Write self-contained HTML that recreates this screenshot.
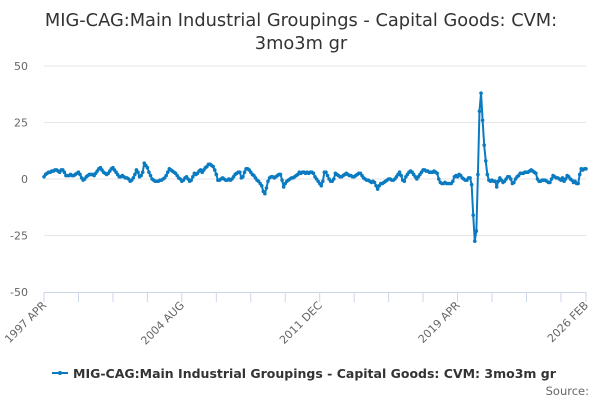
<!DOCTYPE html>
<html><head><meta charset="utf-8"><style>
body{margin:0;background:#fff;font-family:"DejaVu Sans","Liberation Sans",sans-serif}
svg{display:block}
</style></head><body>
<svg id="chart" width="600" height="400" viewBox="0 0 600 400" xmlns="http://www.w3.org/2000/svg" font-family="DejaVu Sans, Liberation Sans, sans-serif">
<text x="301" y="26" text-anchor="middle" font-size="17.8" fill="#333">MIG-CAG:Main Industrial Groupings - Capital Goods: CVM:</text>
<text x="301" y="49" text-anchor="middle" font-size="17.8" fill="#333">3mo3m gr</text>
<g id="grid"></g>
<g id="yaxis"></g>
<g id="xaxis"></g>
<g id="series"></g>
<g>
<line x1="52" y1="373" x2="68" y2="373" stroke="#0b7bc1" stroke-width="2"/>
<circle cx="60" cy="373" r="2" fill="#0b7bc1"/>
<text x="73" y="378" font-size="12.5" font-weight="bold" fill="#333">MIG-CAG:Main Industrial Groupings - Capital Goods: CVM: 3mo3m gr</text>
</g>
<text x="589" y="395" text-anchor="end" font-size="11.5" fill="#666">Source:</text>
</svg>
<script>
const values = [
1,2,2.5,3,3,3.5,3.5,4,4,3.5,3,4,
4,3,1.5,1.5,1.5,2,1.5,1.5,2,2.5,3,2,
0.5,-0.5,0,1,1.5,2,2,2,1.5,2.5,3.5,4.5,
5,4,3,2.5,2,2.5,3.5,4.5,5,4,3,2,
1,1,1.5,1,0.5,0.5,0,-1,-0.5,0.5,2,4,
3,1,1.5,3,7,6,5,3,1.5,0,-0.5,-1,
-1,-1,-0.5,-0.5,0,0.5,1.5,3,4.5,4,3.5,3,
2.5,1.5,0.5,0,-1,-0.5,0.5,1,0,-1,-0.5,1,
2.5,2,2.5,3.5,4,3,4,5,5.5,6.5,6.5,6,
5.5,4,2,-0.5,-0.5,0,0.5,0,-0.5,-0.5,0,-0.5,
0,1,2,2.5,3,3,0.5,1,3,4.5,4.5,4,
3,2,1.5,0.5,-0.5,-1,-2,-3,-5.5,-6.5,-4,-1,
0.5,1,1,0.5,1,1.5,2,2,-0.5,-3.5,-2,-1,
-0.5,0,0.5,0.5,1,1.5,2,3,2.5,3,3,2.5,
3,2.5,3,3,2.5,1,0,-1,-2,-3,-1,3,
3,1.5,0,-1,-1,0,2.5,2,1.5,1,1,1.5,
2,2.5,2,1.5,1.5,1,1,1.5,2,2.5,2.5,1.5,
0.5,0,-0.5,-0.5,-1,-1.5,-1,-1.5,-3,-4.5,-3,-2,
-2,-1.5,-1,-0.5,0,0,-0.5,-0.5,0,1,2,3,
1.5,-0.5,-1,1,2,3,3.5,3,2,1,0,1,
2,3,4,4,3.5,3.5,3,3,3,3.5,3,2.5,
0,-1.5,-2,-2,-1.5,-2,-2,-2,-2,-1,1,1.5,
1,2,1.5,0.5,0,-0.5,-0.5,0.5,0.5,-2.5,-16,-27.5,
-23,2,30,38,26,15,8,2,-0.5,-1,-0.5,-1,
-1,-3.5,-1,0.5,-0.5,-1.5,-1,0,1,1,0,-2,
-1.5,0,1,1.5,2.5,2.5,2.5,3,3,3,3.5,4,
3.5,3,2.5,0,-1,-1,-0.5,-0.5,-0.5,-1,-1.5,-1.5,
0,1.5,1,0.5,0.5,0,-0.5,0.5,-1,0,1.5,1,
0,-0.5,-1.5,-1,-2,-2,2,4.5,4,4.5,4.5
];
const monthNames = ["JAN","FEB","MAR","APR","MAY","JUN","JUL","AUG","SEP","OCT","NOV","DEC"];
const yTicks = [50,25,0,-25,-50];
const xTickLabels = ["1997 APR","2004 AUG","2011 DEC","2019 APR","2026 FEB"];
const categories = [];
for (let i = 0; i < values.length; i++) { const t = 1997*12 + 3 + i; categories.push(Math.floor(t/12) + " " + monthNames[t%12]); }

const NS = "http://www.w3.org/2000/svg";
const X0 = 44, X1 = 586, Y0 = 66, Y1 = 292, YMAX = 50, YMIN = -50;
const xs = i => X0 + i * (X1 - X0) / (values.length - 1);
const ys = v => Y0 + (YMAX - v) * (Y1 - Y0) / (YMAX - YMIN);
function mk(tag, attrs, parent) { const e = document.createElementNS(NS, tag); for (const k in attrs) e.setAttribute(k, attrs[k]); parent.appendChild(e); return e; }

const grid = document.getElementById('grid'), yaxis = document.getElementById('yaxis'), xaxis = document.getElementById('xaxis'), series = document.getElementById('series');
yTicks.forEach(v => {
  if (v !== YMIN) { const g = mk('line', {x1:X0, x2:X1, y1:ys(v), y2:ys(v), stroke:'#e6e6e6', 'stroke-width':1}, grid);
    
     }
  const t = mk('text', {x:28, y:ys(v)+4, 'text-anchor':'end', 'font-size':11, fill:'#666'}, yaxis);
  t.textContent = v;
  
  
});
const ax = mk('line', {x1:X0, x2:X1, y1:Y1+0.5, y2:Y1+0.5, stroke:'#ccd6eb', 'stroke-width':1}, xaxis);


for (let i = 0; i < values.length; i += 22) {
  const tk = mk('line', {x1:xs(i), x2:xs(i), y1:Y1, y2:Y1+10, stroke:'#ccd6eb', 'stroke-width':1}, xaxis);
  
  
}
const lastTk = mk('line', {x1:xs(values.length-1), x2:xs(values.length-1), y1:Y1, y2:Y1+10, stroke:'#ccd6eb'}, xaxis);


xTickLabels.forEach(lbl => {
  const parts = lbl.split(' ');
  const idx = categories.indexOf(parts[0] + ' ' + parts[1]);
  const x = xs(idx) + 3, y = Y1 + 14;
  const t = mk('text', {x:x, y:y, 'text-anchor':'end', 'font-size':11, fill:'#666', transform:`rotate(-45 ${x} ${y})`}, xaxis);
  t.textContent = lbl;
  
  
});
const pts = values.map((v, i) => xs(i).toFixed(2) + ',' + ys(v).toFixed(2)).join(' ');
const pl = mk('polyline', {points:pts, fill:'none', stroke:'#0b7bc1', 'stroke-width':2, 'stroke-linejoin':'round'}, series);


values.forEach((v, i) => {
  const c = mk('circle', {cx:xs(i), cy:ys(v), r:1.8, fill:'#0b7bc1'}, series);
  
  
});
</script>
</body></html>
